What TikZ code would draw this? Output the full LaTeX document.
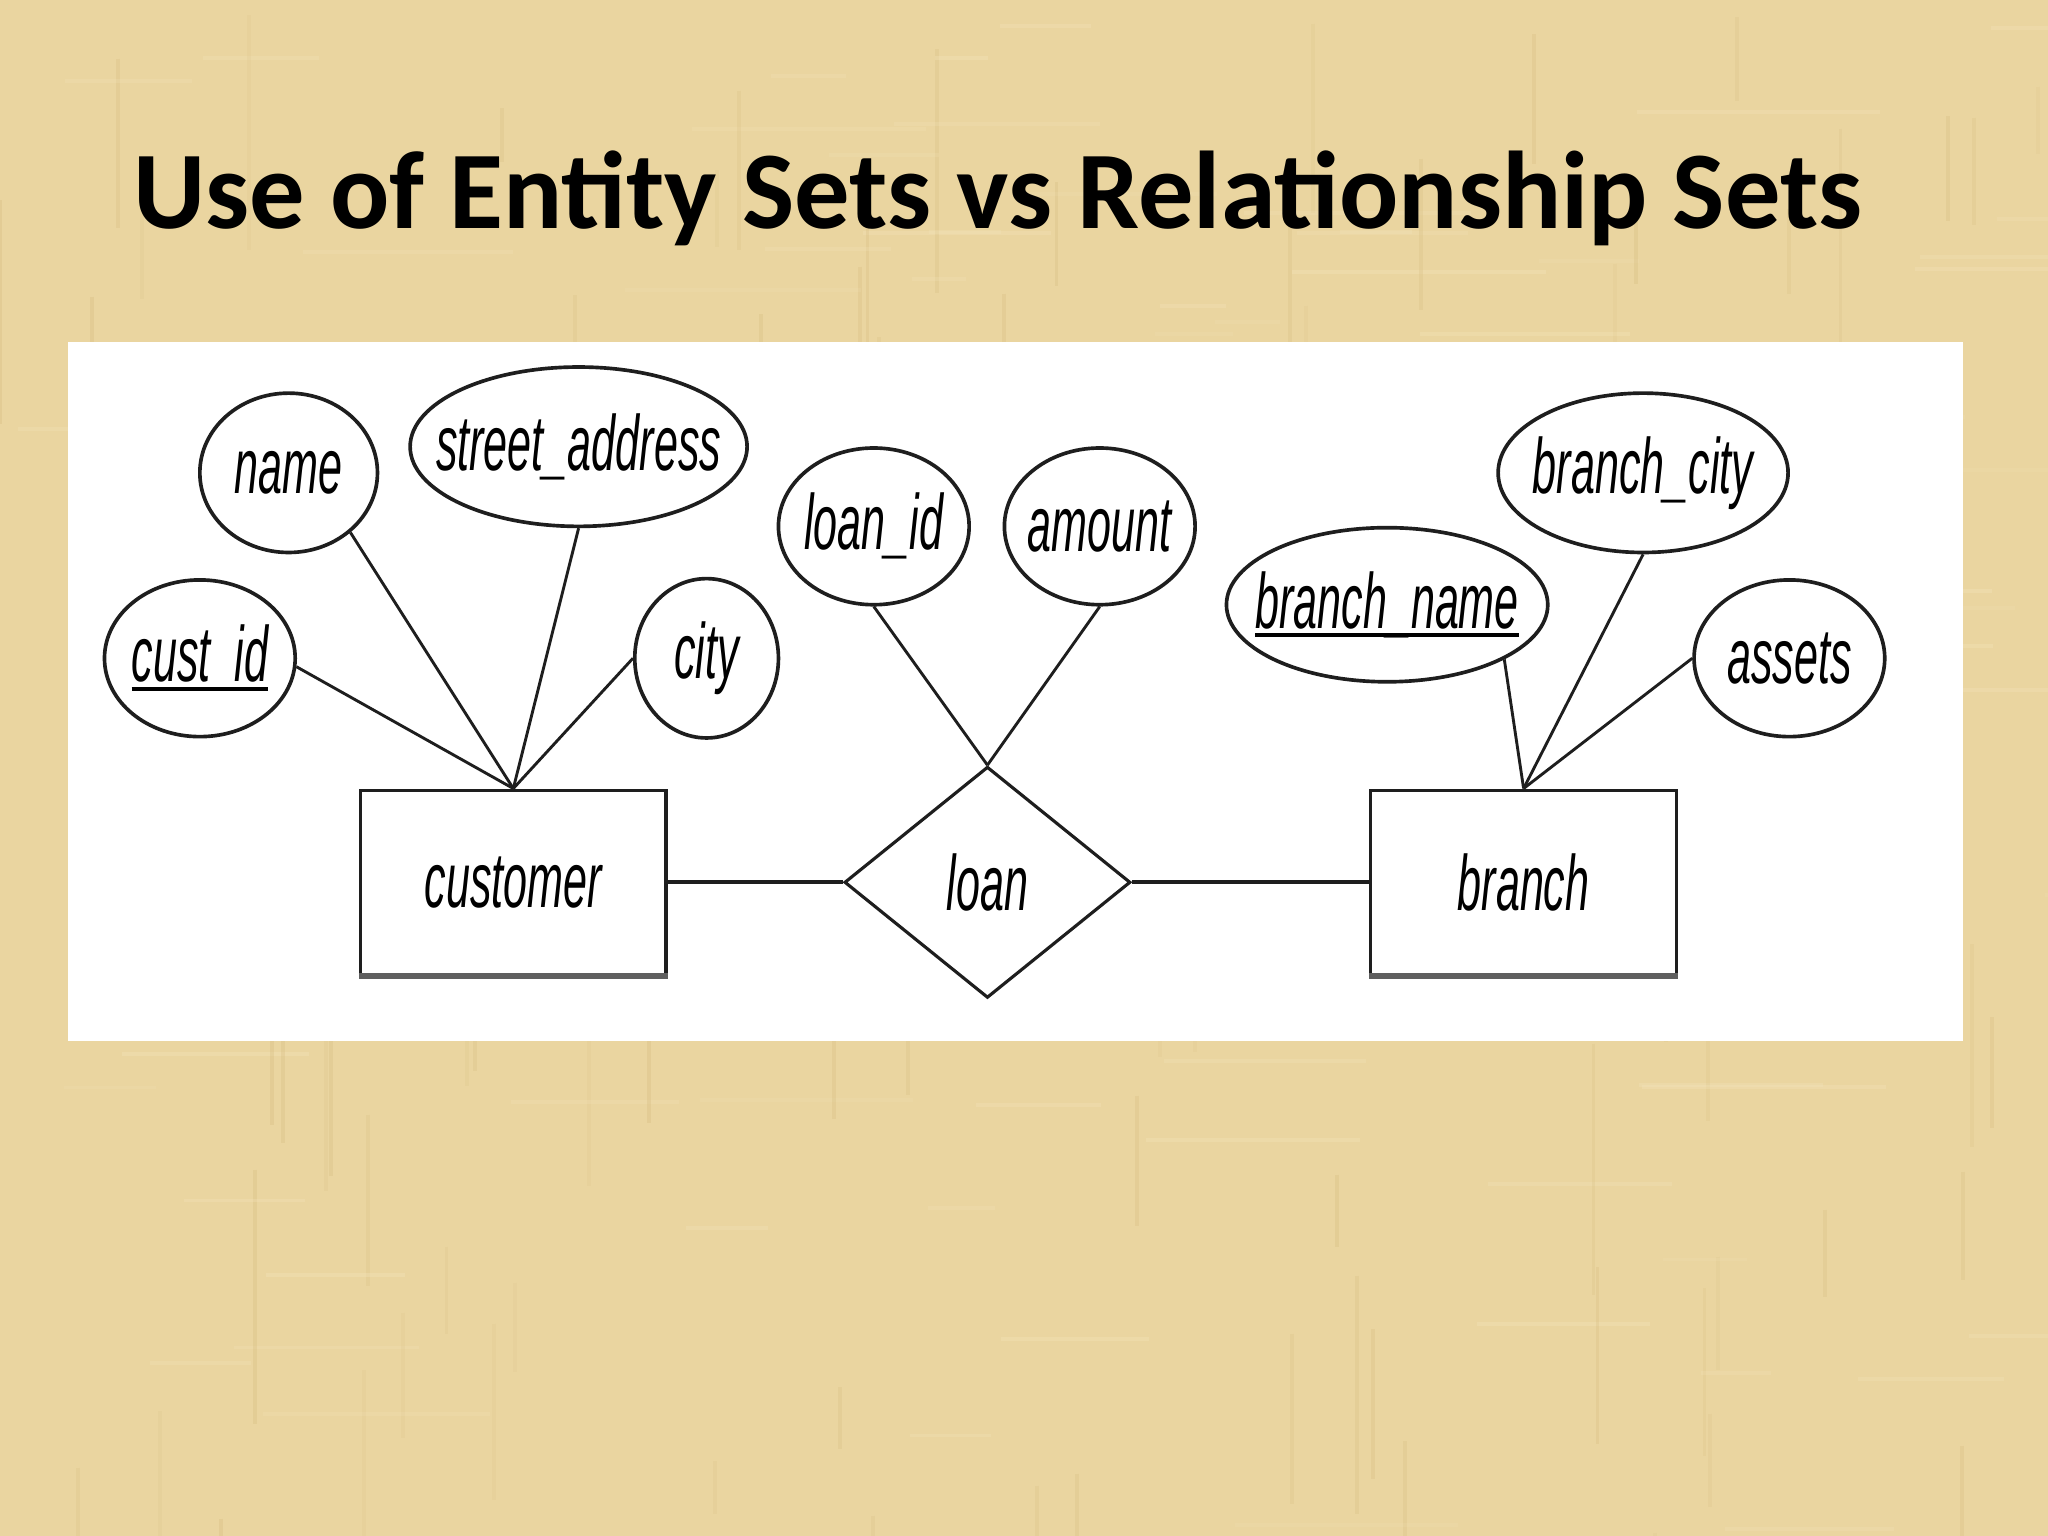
\documentclass[tikz,border=0pt]{standalone}
\usepackage{fontspec}
\usetikzlibrary{shapes.geometric}
\newfontfamily\titlefont{Carlito}
\newfontfamily\erfont[FakeStretch=0.55]{Liberation Sans}
\definecolor{paper}{RGB}{234,213,160}
\definecolor{paperdark}{RGB}{214,188,128}
\definecolor{paperlight}{RGB}{245,230,190}
\definecolor{ink}{RGB}{30,30,30}
\definecolor{edgegray}{RGB}{95,95,95}
\newcommand\erul[1]{\setbox0\hbox{#1}\rlap{\rule[-3.5pt]{\wd0}{1.6pt}}\box0}
\newcommand\zw[1]{\makebox[0pt][c]{#1}}
\tikzset{
  erfnt/.style={font=\erfont\itshape\fontsize{30}{30}\selectfont},
  attr/.style={ellipse, draw=ink, line width=1.4pt, inner sep=0pt, erfnt},
  entity/.style={rectangle, draw=ink, line width=1.3pt, inner sep=0pt, minimum width=117pt, minimum height=70.5pt, erfnt},
  rel/.style={diamond, draw=ink, line width=1.2pt, inner sep=0pt, minimum width=109.5pt, minimum height=88.5pt, erfnt},
  link/.style={draw=ink, line width=1.1pt},
  texture/.style={line width=1.5pt}
}
\begin{document}
\begin{tikzpicture}[x=0.5pt,y=-0.5pt]
  \useasboundingbox (0,0) rectangle (1568,1176);
  \fill[paper] (0,0) rectangle (1568,1176);
  % woven paper texture
  \pgfmathsetseed{7}
  \foreach \i in {1,...,110}{
    \pgfmathsetmacro{\xx}{rnd*1568}
    \pgfmathsetmacro{\yy}{rnd*1176}
    \pgfmathsetmacro{\ll}{40+rnd*160}
    \pgfmathsetmacro{\op}{0.12+rnd*0.22}
    \draw[texture, paperdark, opacity=\op] (\xx,\yy) -- ++(0,\ll);
    \pgfmathsetmacro{\xa}{rnd*1568}
    \pgfmathsetmacro{\ya}{rnd*1176}
    \pgfmathsetmacro{\la}{40+rnd*160}
    \draw[texture, paperlight, opacity=\op] (\xa,\ya) -- ++(\la,0);
  }
  % title
  \node[font=\titlefont\bfseries\fontsize{42.3}{42.3}\selectfont, anchor=base] (title) at (764,175) {Use of Entity Sets vs Relationship Sets};
  % white panel
  \fill[white] (52,262) rectangle (1503,797);
  % entities and relationship
  \node[entity] (customer) at (393,675.5) {customer};
  \node[entity] (branch) at (1166.5,675.5) {branch};
  \draw[edgegray, line width=2pt] (customer.south west) -- (customer.south east);
  \draw[edgegray, line width=2pt] (branch.south west) -- (branch.south east);
  \node[rel] (loan) at (756,675.5) {loan};
  % attributes
  \node[attr, minimum width=73pt, minimum height=60pt] (custid) at (153,504) {\zw{\erul{cust\_id}}};
  \node[attr, minimum width=68pt, minimum height=61pt] (name) at (221,362) {\zw{name}};
  \node[attr, minimum width=129pt, minimum height=61pt] (street) at (443,342) {\zw{street\_address}};
  \node[attr, minimum width=55pt, minimum height=61pt] (city) at (541,504) {\zw{city}};
  \node[attr, minimum width=73pt, minimum height=60pt] (loanid) at (669,403) {\zw{loan\_id}};
  \node[attr, minimum width=73pt, minimum height=60pt] (amount) at (842,403) {\zw{amount}};
  \node[attr, minimum width=123pt, minimum height=59pt] (bname) at (1062,463) {\zw{\erul{branch\_name}}};
  \node[attr, minimum width=111pt, minimum height=61pt] (bcity) at (1258,362) {\zw{branch\_city}};
  \node[attr, minimum width=73pt, minimum height=60pt] (assets) at (1370,504) {\zw{assets}};
  % connectors
  \draw[link] (custid.-5) -- (customer.north);
  \draw[link] (name.-44) -- (customer.north);
  \draw[link] (street.south) -- (customer.north);
  \draw[link] (city.west) -- (customer.north);
  \draw[link] (loanid.south) -- (loan.north);
  \draw[link] (amount.south) -- (loan.north);
  \draw[link, line width=1.6pt] (customer.east) -- (loan.west);
  \draw[link, line width=1.6pt] (loan.east) -- (branch.west);
  \draw[link] (bname.-25) -- (branch.north);
  \draw[link] (bcity.south) -- (branch.north);
  \draw[link] (assets.west) -- (branch.north);
\end{tikzpicture}
\end{document}
